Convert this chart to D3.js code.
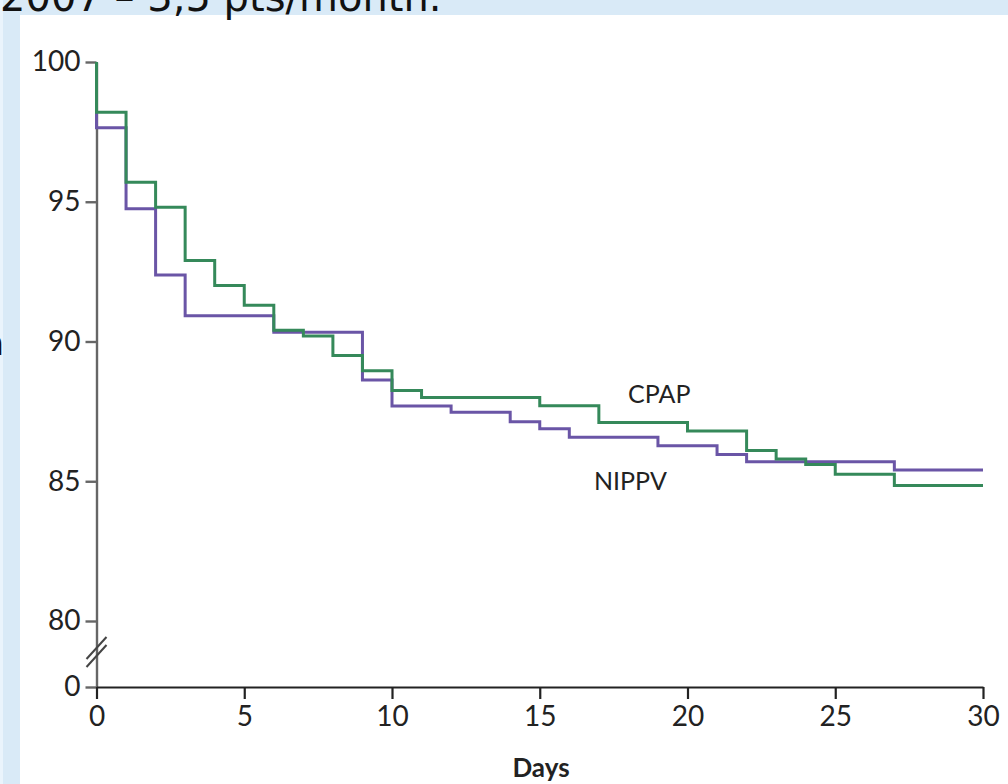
<html>
<head>
  <title>CPAP vs NIPPV</title>
  <script src="https://d3js.org/d3.v7.min.js"></script>
  <style>
    body { margin: 0; background: #d9eaf7; }
    .tick text { font-family: Lato, "Noto Sans", sans-serif; font-size: 28px; fill: #222; }
    .y.axis path, .y.axis line { stroke: #666; stroke-width: 2.4; }
    .x.axis path, .x.axis line { stroke: #222; stroke-width: 2.2; }
  </style>
</head>
<body>
  <svg id="plot" width="1008" height="784"></svg>
  <script>

    // Kaplan-Meier style step data (percent)
    const cpapDays   = [0, 0, 1, 2, 3, 4, 5, 6, 7, 8, 9, 10, 11, 15, 17, 20, 22, 23, 24, 25, 27, 30];
    const cpapValues = [100, 98.2, 95.7, 94.8, 92.9, 92.0, 91.3, 90.4, 90.2, 89.5, 88.95, 88.25, 88.0, 87.7, 87.1, 86.8, 86.1, 85.8, 85.6, 85.25, 84.85, 84.85];

    const nippvDays   = [0, 0, 1, 2, 3, 6, 9, 10, 12, 14, 15, 16, 19, 21, 22, 27, 30];
    const nippvValues = [100, 97.65, 94.75, 92.38, 90.92, 90.33, 88.62, 87.69, 87.47, 87.13, 86.88, 86.57, 86.27, 85.96, 85.7, 85.4, 85.4];

    const xTicks = [0, 5, 10, 15, 20, 25, 30];
    const yTicks = [0, 80, 85, 90, 95, 100];

    const plot = d3.select("svg#plot");

    // slide background + white picture area
    plot.append("rect").attr("x", 0).attr("y", 0).attr("width", 1008).attr("height", 784).attr("fill", "#d9eaf7");
    plot.append("rect").attr("x", 0).attr("y", 0).attr("width", 3).attr("height", 784).attr("fill", "#eaf4fc");
    plot.append("rect").attr("x", 20).attr("y", 15).attr("width", 988).attr("height", 769).attr("fill", "#fff");

    // slide title, cut by the top edge
    const slideFont = "DejaVu Sans";
    plot.append("text").attr("x", 0).attr("y", 11)
        .style("font-family", slideFont).style("font-size", "40px").attr("fill", "#111")
        .text("2007 – 3,5 pts/month.");
    plot.append("text").attr("x", 4).attr("y", 355).attr("text-anchor", "end")
        .style("font-family", slideFont).style("font-size", "34px").attr("fill", "#111")
        .text("n");

    // scales: y axis is broken between 0 and 80
    const xScale = d3.scaleLinear().domain([0, 30]).range([96.5, 983]);
    const yScale = d3.scaleLinear().domain([0, 80, 100]).range([687, 621, 62]);

    let yAxis = d3.axisLeft(yScale).tickValues(yTicks).tickSize(11).tickSizeOuter(0).tickPadding(5);
    plot.append("g").attr("class", "y axis").attr("transform", "translate(" + xScale(0) + ",0)").call(yAxis);

    let xAxis = d3.axisBottom(xScale).tickValues(xTicks).tickSize(12).tickSizeOuter(0).tickPadding(7);
    plot.append("g").attr("class", "x axis").attr("transform", "translate(0," + yScale(0) + ")").call(xAxis);

    // axis break marks
    const bx = xScale(0), by = (yScale(0) + yScale(80)) / 2 - 2;
    [-4, 4].forEach(off => {
      plot.append("line")
          .attr("x1", bx - 10).attr("y1", by + off + 11)
          .attr("x2", bx + 10).attr("y2", by + off - 11)
          .attr("stroke", "#444").attr("stroke-width", 2);
    });

    const line = d3.line().curve(d3.curveStepAfter)
                   .x(d => xScale(d[0]))
                   .y(d => yScale(d[1]));

    plot.append("path").datum(d3.zip(nippvDays, nippvValues))
        .attr("d", line).attr("fill", "none")
        .attr("stroke", "#6a55a6").attr("stroke-width", 3);

    plot.append("path").datum(d3.zip(cpapDays, cpapValues))
        .attr("d", line).attr("fill", "none")
        .attr("stroke", "#35895a").attr("stroke-width", 3);

    // series labels
    const labelFont = "Lato, 'Noto Sans', sans-serif";
    plot.append("text").attr("x", 628).attr("y", 403)
        .style("font-family", labelFont).style("font-size", "25px").attr("fill", "#222")
        .text("CPAP");
    plot.append("text").attr("x", 594).attr("y", 490)
        .style("font-family", labelFont).style("font-size", "25px").attr("fill", "#222")
        .text("NIPPV");

    // x axis title
    plot.append("text").attr("x", 541).attr("y", 777).attr("text-anchor", "middle")
        .style("font-family", labelFont).style("font-size", "26px").style("font-weight", "bold").attr("fill", "#222")
        .text("Days");

  </script>
</body>
</html>
